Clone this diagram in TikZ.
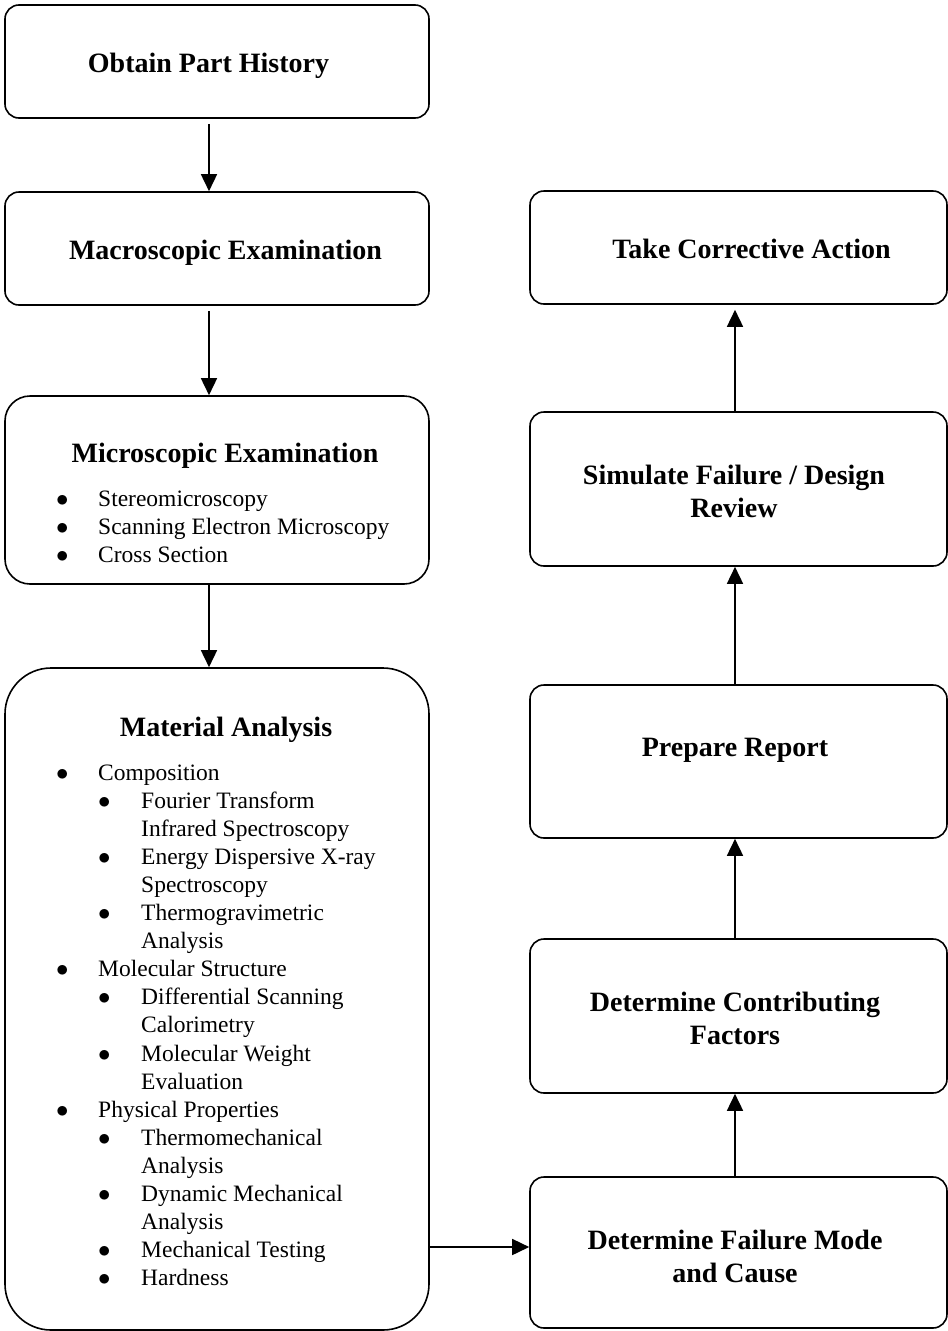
\documentclass[tikz,border=0pt]{standalone}
\usepackage{fontspec}
\setmainfont{Liberation Serif}
\usepackage{tikz}
\usetikzlibrary{arrows.meta}

\newcommand{\bulA}[1]{\makebox[42pt][l]{$\bullet$}#1}
\newcommand{\bulB}[1]{\hspace*{42pt}\makebox[43pt][l]{$\bullet$}#1}
\newcommand{\contB}[1]{\hspace*{85pt}#1}

\begin{document}
\begin{tikzpicture}[x=1pt,y=-1pt,
	head/.style={font=\fontsize{28}{33}\selectfont\bfseries,inner sep=0pt,anchor=base},
	list/.style={font=\fontsize{23.5}{28.1}\selectfont,inner sep=0pt,anchor=base west}]
	\useasboundingbox (0,0) rectangle (948,1331);

	% left column boxes
	\begin{scope}[every node/.style={draw,line width=1.6pt,rounded corners=14pt,inner sep=0pt,minimum width=424pt}]
		\node[minimum height=113pt] (obtain) at (217,61.5) {};
		\node[minimum height=113pt] (macro) at (217,248.5) {};
		\node[minimum height=188pt,rounded corners=25pt] (micro) at (217,490) {};
		\node[minimum height=662pt,rounded corners=46pt] (material) at (217,999) {};
	\end{scope}

	% right column boxes
	\begin{scope}[every node/.style={draw,line width=1.6pt,rounded corners=14pt,inner sep=0pt,minimum width=417pt}]
		\node[minimum height=113pt] (action) at (738.5,247.5) {};
		\node[minimum height=154pt] (simulate) at (738.5,489) {};
		\node[minimum height=153pt] (report) at (738.5,761.5) {};
		\node[minimum height=154pt] (factors) at (738.5,1016) {};
		\node[minimum height=151pt] (mode) at (738.5,1252.5) {};
	\end{scope}

	% titles
	\node[head] (tobtain) at (208.5,72) {Obtain Part History};
	\node[head] (tmacro) at (225.5,259) {Macroscopic Examination};
	\node[head] (tmicro) at (225,462) {Microscopic Examination};
	\node[head] (tmaterial) at (226,736) {Material Analysis};
	\node[head] (taction) at (751.5,258) {Take Corrective Action};
	\node[head] (tsimulate) at (734,484) {\begin{tabular}[t]{@{}c@{}}Simulate Failure / Design\\Review\end{tabular}};
	\node[head] (treport) at (735,756) {Prepare Report};
	\node[head] (tfactors) at (735,1011) {\begin{tabular}[t]{@{}c@{}}Determine Contributing\\Factors\end{tabular}};
	\node[head] (tmode) at (735,1249) {\begin{tabular}[t]{@{}c@{}}Determine Failure Mode\\and Cause\end{tabular}};

	% bullet lists
	\node[list] (lmicro) at (56,506) {\begin{minipage}[t]{360pt}
		\bulA{Stereomicroscopy}\\
		\bulA{Scanning Electron Microscopy}\\
		\bulA{Cross Section}
	\end{minipage}};
	\node[list] (lmaterial) at (56,780) {\begin{minipage}[t]{360pt}
		\bulA{Composition}\\
		\bulB{Fourier Transform}\\
		\contB{Infrared Spectroscopy}\\
		\bulB{Energy Dispersive X-ray}\\
		\contB{Spectroscopy}\\
		\bulB{Thermogravimetric}\\
		\contB{Analysis}\\
		\bulA{Molecular Structure}\\
		\bulB{Differential Scanning}\\
		\contB{Calorimetry}\\
		\bulB{Molecular Weight}\\
		\contB{Evaluation}\\
		\bulA{Physical Properties}\\
		\bulB{Thermomechanical}\\
		\contB{Analysis}\\
		\bulB{Dynamic Mechanical}\\
		\contB{Analysis}\\
		\bulB{Mechanical Testing}\\
		\bulB{Hardness}
	\end{minipage}};

	% connectors
	\begin{scope}[>={Triangle[length=17pt,width=16pt]},
	              every edge/.style={draw=black,line width=1.6pt}]
		\path ([xshift=-8pt]obtain.south) edge[->,shorten <=5pt] ([xshift=-8pt]macro.north);
		\path ([xshift=-8pt]macro.south) edge[->,shorten <=5pt] ([xshift=-8pt]micro.north);
		\path ([xshift=-8pt]micro.south) edge[->] ([xshift=-8pt]material.north);
		\path (material.east |- 0,1247) edge[->] (mode.west |- 0,1247);
		\path ([xshift=-3.5pt]mode.north) edge[->] ([xshift=-3.5pt]factors.south);
		\path ([xshift=-3.5pt]factors.north) edge[->] ([xshift=-3.5pt]report.south);
		\path ([xshift=-3.5pt]report.north) edge[->] ([xshift=-3.5pt]simulate.south);
		\path ([xshift=-3.5pt]simulate.north) edge[->,shorten >=5pt] ([xshift=-3.5pt]action.south);
	\end{scope}
\end{tikzpicture}
\end{document}
